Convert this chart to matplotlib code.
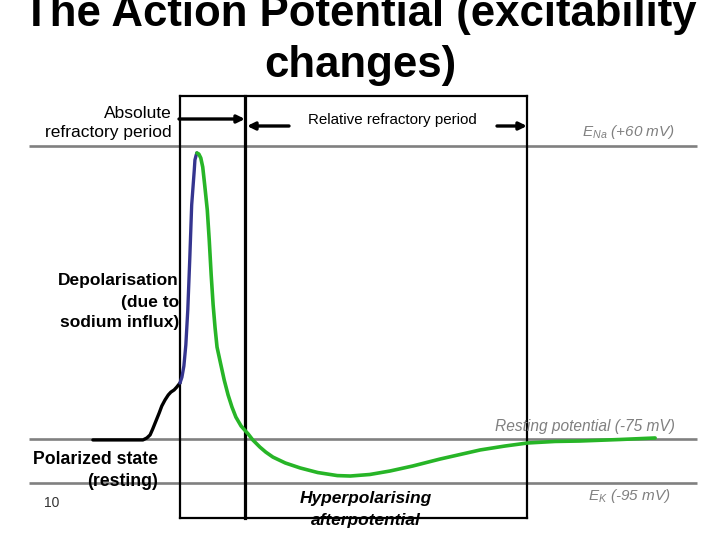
import matplotlib
matplotlib.use("Agg")
import matplotlib.pyplot as plt

plt.rcParams['font.family'] = ['Liberation Sans', 'DejaVu Sans']
plt.rcParams['mathtext.fontset'] = 'custom'
plt.rcParams['mathtext.rm'] = 'Liberation Sans'
plt.rcParams['mathtext.it'] = 'Liberation Sans:italic'

# ---------------- data ----------------
# time in ms (0 = start of spike), membrane potential in mV
t_pre = [-1.34, -0.57, -0.51, -0.46, -0.42, -0.37, -0.32, -0.28, -0.23, -0.18,
         -0.14, -0.09, -0.05, 0.0]
v_pre = [-75.2, -75.2, -74.3, -72.9, -70.2, -66.5, -62.8, -59.6, -56.8, -54.5,
         -53.2, -52.2, -50.9, -49.0]

t_depol = [0.0, 0.03, 0.06, 0.09, 0.12, 0.15, 0.18, 0.22, 0.23, 0.25, 0.26]
v_depol = [-49.0, -46.3, -41.2, -31.5, -15.4, 7.6, 32.9, 49.0, 53.6, 55.9, 56.8]

t_repol = [0.26, 0.29, 0.32, 0.35, 0.38, 0.42, 0.45, 0.48, 0.51, 0.54, 0.57,
           0.62, 0.68, 0.74, 0.80, 0.86, 0.94, 1.05, 1.12, 1.23, 1.32, 1.43,
           1.62, 1.85, 2.12, 2.42, 2.62, 2.92, 3.23, 3.58, 4.00, 4.31, 4.62,
           5.00, 5.35, 5.77, 6.15, 6.77, 7.31]
v_repol = [56.8, 56.3, 54.5, 50.3, 42.1, 30.6, 16.8, 0.7, -13.1, -23.7, -32.5,
           -39.4, -47.6, -54.5, -60.1, -64.7, -68.8, -72.5, -75.2, -78.5, -80.8, -83.1,
           -85.8, -88.1, -90.2, -91.6, -91.8, -91.1, -89.5, -87.2, -84.0, -81.9, -79.8,
           -78.0, -76.6, -75.9, -75.7, -75.0, -74.3]

E_Na = 60
V_rest = -75
E_K = -95
ref_line_span = [-2.32, 7.95]          # ms extent of reference lines

abs_refractory = [0.0, 1.0]            # ms
rel_refractory = [1.0, 5.34]           # ms
box_v = [-111.1, 83.0]                 # mV extent of period box

title_lines = ["The Action Potential (excitability", "changes)"]

# ---------------- figure ----------------
W, H = 720, 540
fig = plt.figure(figsize=(W / 100, H / 100), dpi=100)
ax = fig.add_axes([0, 0, 1, 1])
ax.set_xlim(-2.769, 8.308)
ax.set_ylim(-121.23, 127.16)
ax.axis('off')


def P(x, y):
    return (x / W, 1 - y / H)


gray = '#808080'

# reference lines
for v in (E_Na, V_rest, E_K):
    ax.plot(ref_line_span, [v, v], color=gray, lw=1.9, zorder=4,
            solid_capstyle='butt')

# period box
lo, hi = box_v
ax.plot([abs_refractory[0], rel_refractory[1]], [hi, hi], color='black', lw=1.6, zorder=5)
ax.plot([abs_refractory[0], rel_refractory[1]], [lo, lo], color='black', lw=1.6, zorder=5)
ax.plot([abs_refractory[0]] * 2, [lo, hi], color='black', lw=1.6, zorder=5)
ax.plot([abs_refractory[1]] * 2, [lo, hi], color='black', lw=2.3, zorder=5)
ax.plot([rel_refractory[1]] * 2, [lo, hi], color='black', lw=1.6, zorder=5)

# action potential trace
ax.plot(t_pre, v_pre, color='black', lw=2.4, zorder=6, solid_capstyle='round',
        solid_joinstyle='round')
ax.plot(t_depol, v_depol, color='#35358f', lw=2.4, zorder=6, solid_capstyle='round',
        solid_joinstyle='round')
ax.plot(t_repol, v_repol, color='#27b527', lw=2.6, zorder=6, solid_capstyle='round',
        solid_joinstyle='round')

# arrows
ap = dict(arrowstyle='-|>,head_length=0.45,head_width=0.22', lw=2.4, color='black',
          shrinkA=0, shrinkB=0)
ax.annotate('', xy=P(245, 119), xytext=P(179, 119), xycoords='figure fraction',
            textcoords='figure fraction', arrowprops=ap, zorder=7)
ax.annotate('', xy=P(247, 126), xytext=P(289, 126), xycoords='figure fraction',
            textcoords='figure fraction', arrowprops=ap, zorder=7)
ax.annotate('', xy=P(527, 126), xytext=P(497, 126), xycoords='figure fraction',
            textcoords='figure fraction', arrowprops=ap, zorder=7)

tf = fig.transFigure
# title
fig.text(*P(360, 26), title_lines[0], ha='center', va='baseline', fontsize=31.5,
         fontweight='bold', transform=tf)
fig.text(*P(360, 77), title_lines[1], ha='center', va='baseline', fontsize=31.5,
         fontweight='bold', transform=tf)

# labels
fig.text(*P(172, 113), "Absolute", ha='right', va='center', fontsize=12.5, transform=tf)
fig.text(*P(172, 133), "refractory period", ha='right', va='center', fontsize=12.5, transform=tf)
fig.text(*P(392, 120), "Relative refractory period", ha='center', va='center',
         fontsize=10.9, transform=tf)
fig.text(*P(675, 132), r"E$_{Na}$ (+60 mV)", ha='right', va='center', fontsize=11,
         style='italic', color=gray, transform=tf)

for s, y in (("Depolarisation", 280), ("(due to", 303), ("sodium influx)", 323)):
    fig.text(*P(179, y), s, ha='right', va='center', fontsize=12.5, fontweight='bold',
             transform=tf)

fig.text(*P(675, 427), "Resting potential (-75 mV)", ha='right', va='center',
         fontsize=11.2, style='italic', color=gray, transform=tf)
fig.text(*P(158, 460), "Polarized state", ha='right', va='center', fontsize=12.7,
         fontweight='bold', transform=tf)
fig.text(*P(158, 482), "(resting)", ha='right', va='center', fontsize=12.7,
         fontweight='bold', transform=tf)
fig.text(*P(44, 503), "10", ha='left', va='center', fontsize=10, color='#333333',
         transform=tf)
fig.text(*P(670, 496), r"E$_{K}$ (-95 mV)", ha='right', va='center', fontsize=11,
         style='italic', color=gray, transform=tf)
fig.text(*P(366, 499), "Hyperpolarising", ha='center', va='center', fontsize=12.5,
         fontweight='bold', style='italic', transform=tf)
fig.text(*P(366, 520), "afterpotential", ha='center', va='center', fontsize=12.5,
         fontweight='bold', style='italic', transform=tf)

fig.savefig('out.png', dpi=100)
